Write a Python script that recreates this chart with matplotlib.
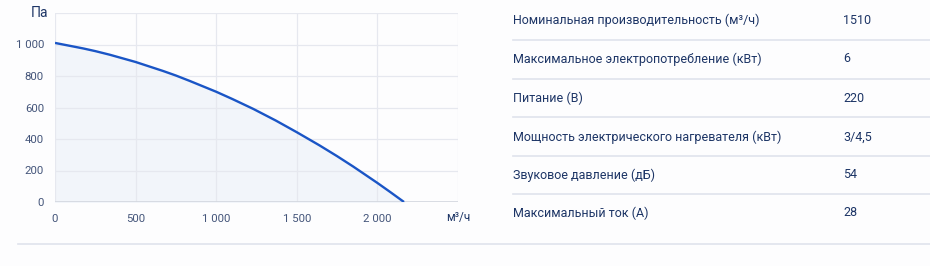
import numpy as np
import matplotlib.pyplot as plt
from matplotlib.ticker import FuncFormatter

plt.rcParams['font.family'] = ['Roboto', 'DejaVu Sans']

# Fan curve
flow = [0, 175, 250, 340, 500, 670, 750, 835, 1000, 1100, 1230,
        1370, 1500, 1640, 1750, 1850, 2000, 2080, 2165]
pressure = [1010, 975, 958, 935, 889, 832, 803, 769, 700, 654, 591,
            517, 443, 360, 291, 225, 121, 63, 0]

x_ticks = [0, 500, 1000, 1500, 2000, 2500]
y_ticks = [0, 200, 400, 600, 800, 1000, 1200]

params = ["Номинальная производительность (м³/ч)",
          "Максимальное электропотребление (кВт)",
          "Питание (В)",
          "Мощность электрического нагревателя (кВт)",
          "Звуковое давление (дБ)",
          "Максимальный ток (А)"]
values = ["1510", "6", "220", "3/4,5", "54", "28"]

W, H = 930, 266
fig = plt.figure(figsize=(W / 100, H / 100), dpi=100)
fig.patch.set_facecolor('#fdfdfe')

text_col = '#1d3566'
tick_col = '#44557a'
grid_col = '#e6e8ef'

ax = fig.add_axes([55 / W, 1 - 202 / H, (458 - 55) / W, (202 - 13) / H])
ax.set_facecolor('none')
ax.fill_between(flow, pressure, 0, color='#f2f5fa', zorder=1)
ax.plot(flow, pressure, color='#1a55c6', lw=1.7, zorder=3,
        solid_joinstyle='round', solid_capstyle='butt')
ax.set_xlim(0, 2500)
ax.set_ylim(0, 1200)
ax.set_xticks(x_ticks)
ax.set_yticks(y_ticks)

def sep(v, pos):
    return f"{int(v):,}".replace(",", " ")

ax.xaxis.set_major_formatter(FuncFormatter(sep))
ax.yaxis.set_major_formatter(FuncFormatter(sep))
ax.grid(True, color=grid_col, lw=0.9, zorder=0)
for s in ax.spines.values():
    s.set_visible(False)
ax.axhline(0, color='#d3d7df', lw=1.2, zorder=2)
ax.tick_params(length=0, labelsize=8.2, labelcolor=tick_col)
ax.tick_params(axis='y', pad=8)
ax.tick_params(axis='x', pad=9)
# the last grid lines carry no label
for lab in ax.get_yticklabels():
    if lab.get_text() == "1 200":
        lab.set_visible(False)
for lab in ax.get_xticklabels():
    if lab.get_text() == "2 500":
        lab.set_visible(False)

fig.text(39 / W, 1 - 13 / H, "Па", fontsize=10, color=text_col, ha='center', va='center')
fig.text(458 / W, 1 - 218 / H, "м³/ч", fontsize=8.5, color=text_col, ha='center', va='center')

# table on the right
row_y = [20, 59, 98, 137, 175, 213]
line_y = [40, 79, 117, 156, 194]
for p, v, y in zip(params, values, row_y):
    fig.text(513 / W, 1 - y / H, p, fontsize=9, color=text_col, va='center')
    fig.text(843 / W, 1 - y / H, v, fontsize=9, color=text_col, va='center')
for y in line_y:
    fig.add_artist(plt.Line2D([513 / W, 1], [1 - y / H] * 2, color='#dfe3ec', lw=1.2))
fig.add_artist(plt.Line2D([18 / W, 1], [1 - 244 / H] * 2, color='#dfe3ec', lw=1.2))

fig.savefig('out.png', dpi=100, facecolor=fig.get_facecolor())
